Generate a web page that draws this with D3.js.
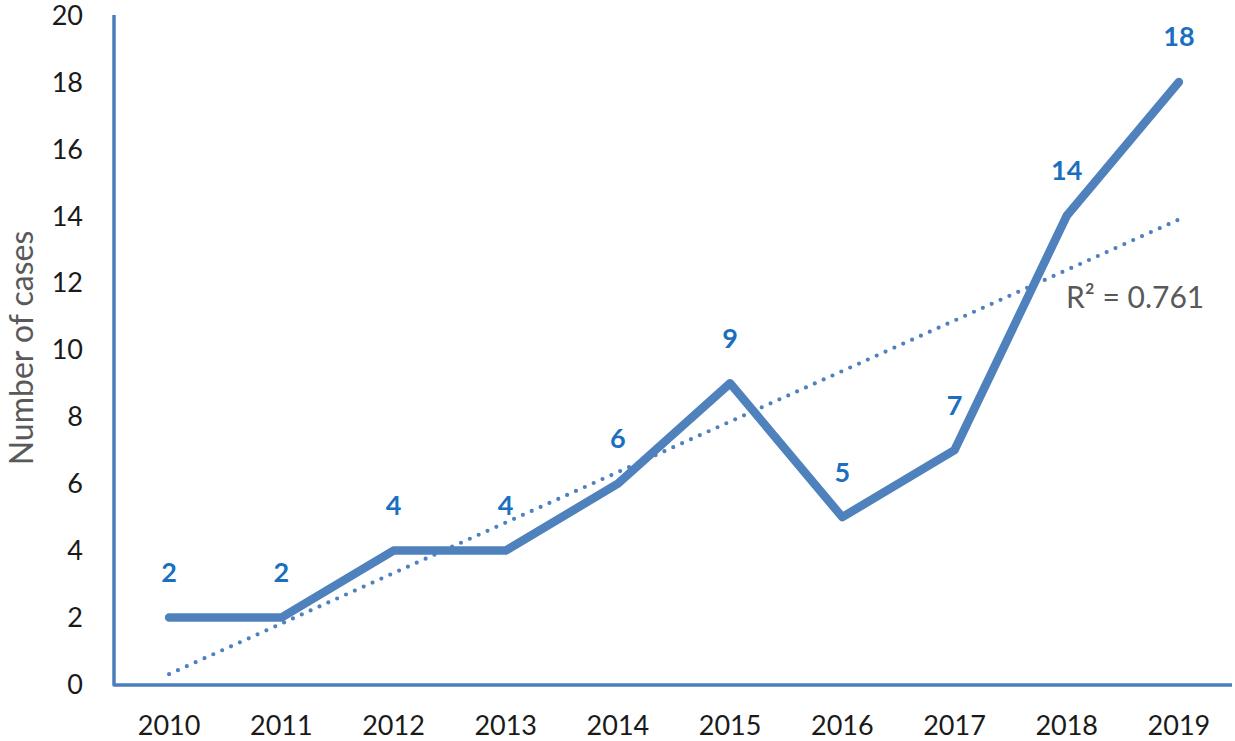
<!DOCTYPE html>
<html><head><meta charset="utf-8">
<script src="https://cdn.jsdelivr.net/npm/d3@7"></script>
<style>body{margin:0;background:#fff}</style>
</head><body>
<svg id="c" width="1235" height="741"></svg>
<script>
const years = ["2010","2011","2012","2013","2014","2015","2016","2017","2018","2019"];
const cases = [2,2,4,4,6,9,5,7,14,18];
const yTicks = [0,2,4,6,8,10,12,14,16,18,20];
const yTitle = "Number of cases";

const svg = d3.select("#c");
const x = d3.scaleBand().domain(years).range([113,1235]);
const y = d3.scaleLinear().domain([0,20]).range([684.5,15]);
const cx = d => x(d) + x.bandwidth()/2;
const font = "Lato, 'Open Sans', sans-serif";
const blue = "#4f81bd";

// linear trend
const n = cases.length;
const xs = cases.map((_, i) => i + 1);
const mx = d3.mean(xs), my = d3.mean(cases);
const sxy = d3.sum(xs.map((v,i)=>(v-mx)*(cases[i]-my)));
const sxx = d3.sum(xs.map(v=>(v-mx)**2));
const syy = d3.sum(cases.map(v=>(v-my)**2));
const slope = sxy/sxx, icpt = my - slope*mx;
const r2 = sxy*sxy/(sxx*syy);

// axes
const yAxis = d3.axisLeft(y).tickValues(yTicks).tickSize(0).tickPadding(0);
const gy = svg.append("g").attr("transform","translate(114,0)").call(yAxis);
gy.select(".domain").remove();
gy.selectAll("text").attr("x",-31).attr("dy","0.34em").attr("font-family",font).attr("font-size",27).attr("fill","#1a1a1a");

const xAxis = d3.axisBottom(x).tickSize(0).tickPadding(0);
const gx = svg.append("g").attr("transform","translate(0,685)").call(xAxis);
gx.select(".domain").remove();
gx.selectAll("text").attr("y",41).attr("dy","0.35em").attr("font-family",font).attr("font-size",27).attr("fill","#1a1a1a");

svg.append("path").attr("d",`M114,15 V685 H1232`).attr("fill","none").attr("stroke","#4a7ebb").attr("stroke-width",3.5).attr("stroke-linejoin","round");

// trendline
svg.append("line")
  .attr("x1",cx(years[0])).attr("y1",y(slope*1+icpt))
  .attr("x2",cx(years[n-1])).attr("y2",y(slope*n+icpt))
  .attr("stroke",blue).attr("stroke-width",4.2).attr("stroke-linecap","round")
  .attr("stroke-dasharray","0,9.7");

// main line
const line = d3.line().x((d,i)=>cx(years[i])).y(d=>y(d));
svg.append("path").datum(cases).attr("d",line).attr("fill","none")
  .attr("stroke",blue).attr("stroke-width",8.5).attr("stroke-linecap","round").attr("stroke-linejoin","round");

// labels
svg.selectAll(".lbl").data(cases).enter().append("text")
  .attr("x",(d,i)=>cx(years[i])).attr("y",d=>y(d)-45).attr("dy","0.35em")
  .attr("text-anchor","middle").attr("font-family",font).attr("font-weight","bold")
  .attr("font-size",27).attr("fill","#1a6fc0").text(d=>d);

svg.append("text").attr("x",1066).attr("y",297).attr("dy","0.35em").attr("font-family",font).attr("font-size",30)
  .attr("fill","#595959").text("R² = " + r2.toFixed(3));

svg.append("text").attr("transform","translate(33,348) rotate(-90)").attr("text-anchor","middle")
  .attr("font-family",font).attr("font-size",32).attr("fill","#595959").text(yTitle);
</script>
</body></html>
